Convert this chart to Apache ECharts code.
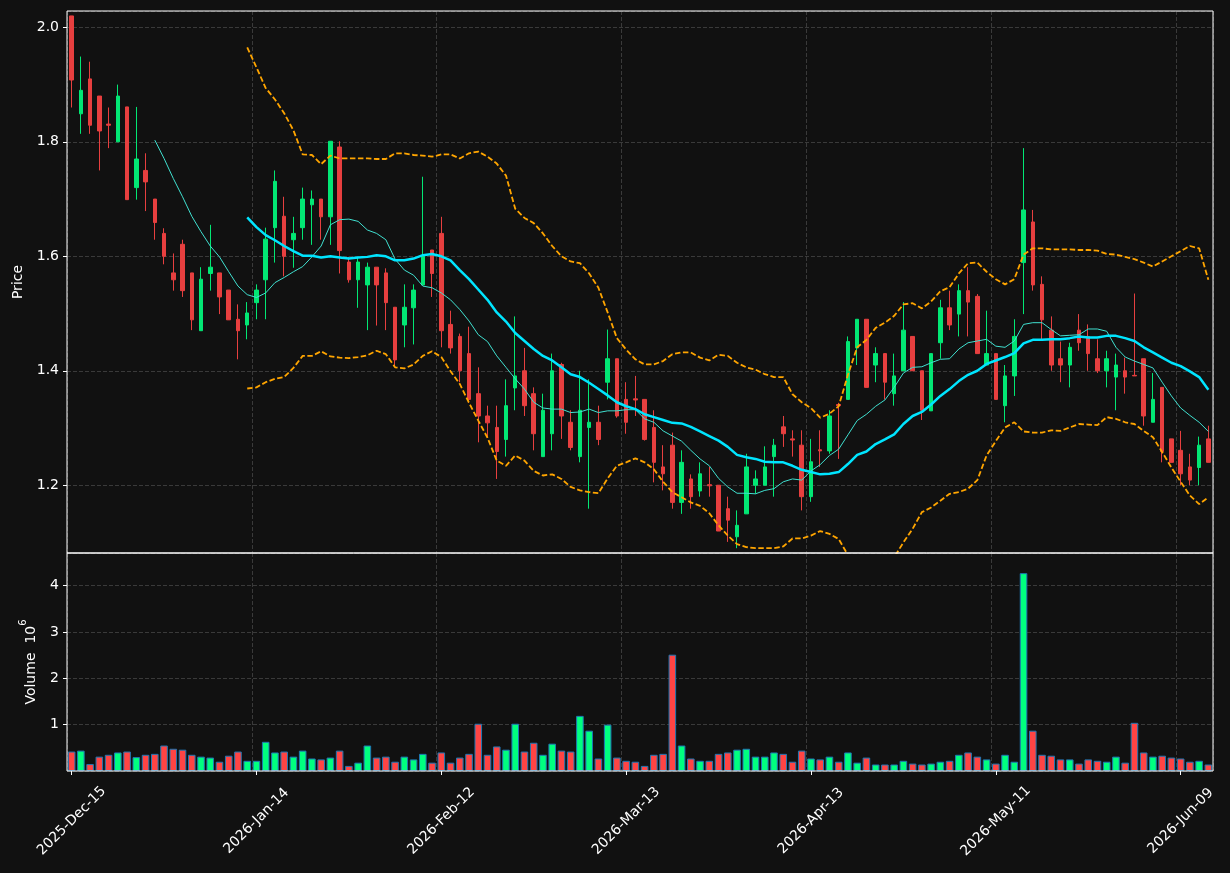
<!DOCTYPE html>
<html>
<head>
<meta charset="utf-8">
<script src="https://cdn.jsdelivr.net/npm/echarts@6/dist/echarts.min.js"></script>
<style>
  html, body { margin: 0; padding: 0; background: #111111; }
  #chart { width: 1230px; height: 873px; }
</style>
</head>
<body>
<div id="chart"></div>
<script>
// daily OHLC
var opens = [2.020,1.849,1.910,1.880,1.831,1.800,1.861,1.720,1.750,1.700,
  1.640,1.571,1.621,1.571,1.470,1.570,1.571,1.541,1.490,1.480,
  1.519,1.559,1.650,1.670,1.629,1.650,1.690,1.700,1.669,1.791,
  1.590,1.559,1.550,1.581,1.571,1.511,1.480,1.510,1.550,1.611,
  1.640,1.481,1.460,1.430,1.360,1.321,1.301,1.280,1.370,1.400,
  1.360,1.250,1.290,1.411,1.310,1.250,1.301,1.310,1.380,1.421,
  1.350,1.351,1.350,1.301,1.232,1.270,1.170,1.211,1.190,1.201,
  1.200,1.159,1.110,1.150,1.200,1.200,1.250,1.302,1.281,1.270,
  1.180,1.262,1.260,1.341,1.350,1.440,1.490,1.410,1.430,1.360,
  1.400,1.460,1.400,1.330,1.449,1.510,1.499,1.540,1.530,1.410,
  1.430,1.339,1.391,1.589,1.660,1.551,1.471,1.421,1.410,1.471,
  1.460,1.421,1.400,1.389,1.400,1.392,1.421,1.310,1.371,1.281,
  1.261,1.232,1.231,1.281];
var highs = [2.020,1.949,1.940,1.880,1.860,1.900,1.861,1.861,1.780,1.700,
  1.649,1.605,1.629,1.571,1.581,1.655,1.571,1.541,1.516,1.520,
  1.551,1.650,1.750,1.704,1.669,1.720,1.715,1.700,1.801,1.801,
  1.599,1.599,1.589,1.581,1.579,1.511,1.551,1.551,1.739,1.611,
  1.669,1.505,1.465,1.477,1.406,1.339,1.339,1.385,1.495,1.440,
  1.371,1.360,1.430,1.414,1.331,1.400,1.385,1.339,1.472,1.421,
  1.380,1.391,1.350,1.331,1.270,1.292,1.261,1.219,1.240,1.232,
  1.200,1.180,1.156,1.255,1.226,1.268,1.281,1.321,1.296,1.296,
  1.281,1.296,1.331,1.344,1.460,1.490,1.490,1.441,1.430,1.430,
  1.520,1.460,1.400,1.430,1.524,1.540,1.551,1.581,1.534,1.505,
  1.430,1.410,1.490,1.789,1.681,1.565,1.495,1.451,1.449,1.499,
  1.481,1.455,1.435,1.430,1.423,1.535,1.421,1.396,1.371,1.281,
  1.295,1.255,1.285,1.304];
var lows = [1.860,1.814,1.814,1.750,1.789,1.800,1.699,1.699,1.679,1.629,
  1.586,1.540,1.529,1.471,1.470,1.540,1.499,1.489,1.420,1.455,
  1.490,1.490,1.589,1.565,1.580,1.629,1.620,1.629,1.620,1.570,
  1.554,1.510,1.471,1.479,1.471,1.408,1.441,1.446,1.550,1.529,
  1.441,1.430,1.380,1.344,1.275,1.283,1.211,1.250,1.331,1.321,
  1.261,1.250,1.261,1.281,1.261,1.240,1.159,1.270,1.350,1.318,
  1.290,1.321,1.278,1.205,1.191,1.159,1.150,1.159,1.180,1.180,
  1.120,1.101,1.090,1.150,1.185,1.200,1.180,1.267,1.250,1.156,
  1.171,1.232,1.255,1.246,1.350,1.410,1.371,1.380,1.350,1.339,
  1.400,1.400,1.314,1.330,1.421,1.471,1.460,1.460,1.430,1.410,
  1.350,1.310,1.356,1.499,1.540,1.455,1.400,1.380,1.371,1.435,
  1.400,1.396,1.371,1.331,1.360,1.391,1.304,1.310,1.240,1.240,
  1.200,1.200,1.200,1.240];
var closes = [1.908,1.890,1.829,1.819,1.829,1.880,1.699,1.770,1.730,1.659,
  1.600,1.559,1.540,1.489,1.560,1.581,1.529,1.489,1.470,1.501,
  1.541,1.630,1.731,1.600,1.640,1.700,1.700,1.669,1.801,1.610,
  1.559,1.590,1.581,1.550,1.519,1.419,1.511,1.541,1.600,1.570,
  1.470,1.440,1.400,1.350,1.321,1.309,1.259,1.339,1.391,1.339,
  1.290,1.331,1.400,1.321,1.266,1.331,1.310,1.280,1.421,1.321,
  1.310,1.349,1.280,1.240,1.220,1.170,1.240,1.180,1.220,1.199,
  1.120,1.139,1.130,1.232,1.211,1.232,1.270,1.290,1.279,1.180,
  1.241,1.260,1.321,1.339,1.451,1.490,1.371,1.430,1.380,1.391,
  1.471,1.400,1.331,1.430,1.510,1.480,1.540,1.520,1.430,1.430,
  1.350,1.391,1.460,1.681,1.550,1.489,1.410,1.410,1.441,1.449,
  1.430,1.400,1.421,1.410,1.389,1.391,1.321,1.350,1.259,1.240,
  1.220,1.209,1.270,1.240];

// volume in millions
var volumes = [0.42,0.44,0.15,0.31,0.35,0.40,0.42,0.30,0.35,0.37,
  0.55,0.48,0.46,0.35,0.31,0.29,0.20,0.33,0.42,0.22,
  0.22,0.63,0.40,0.42,0.31,0.44,0.27,0.25,0.29,0.44,
  0.11,0.18,0.55,0.29,0.31,0.20,0.31,0.25,0.37,0.18,
  0.40,0.18,0.29,0.37,1.02,0.35,0.53,0.46,1.02,0.42,
  0.61,0.35,0.59,0.44,0.42,1.19,0.87,0.27,1.00,0.29,
  0.22,0.20,0.11,0.35,0.37,2.51,0.55,0.27,0.22,0.22,
  0.37,0.40,0.46,0.48,0.31,0.31,0.40,0.37,0.20,0.44,
  0.27,0.25,0.31,0.20,0.40,0.18,0.29,0.14,0.14,0.14,
  0.22,0.16,0.14,0.16,0.20,0.22,0.35,0.40,0.31,0.25,
  0.16,0.35,0.20,4.27,0.87,0.35,0.33,0.25,0.25,0.16,
  0.25,0.22,0.20,0.31,0.18,1.04,0.40,0.31,0.33,0.29,
  0.27,0.20,0.22,0.14];

// overlay lines (null before they start)
var ma10 = [null,null,null,null,null,null,null,null,null,1.803,
  1.771,1.736,1.704,1.670,1.643,1.618,1.599,1.573,1.548,1.533,
  1.528,1.536,1.554,1.563,1.573,1.582,1.599,1.618,1.655,1.664,
  1.665,1.661,1.646,1.640,1.629,1.595,1.576,1.567,1.548,1.545,
  1.536,1.524,1.507,1.487,1.463,1.451,1.426,1.406,1.386,1.368,
  1.345,1.335,1.333,1.333,1.327,1.328,1.333,1.327,1.330,1.330,
  1.332,1.332,1.316,1.310,1.295,1.286,1.277,1.261,1.246,1.234,
  1.212,1.197,1.186,1.186,1.185,1.191,1.194,1.206,1.211,1.209,
  1.225,1.236,1.252,1.263,1.288,1.313,1.324,1.338,1.349,1.371,
  1.396,1.406,1.407,1.414,1.420,1.421,1.438,1.449,1.452,1.455,
  1.443,1.441,1.452,1.481,1.484,1.484,1.472,1.461,1.462,1.463,
  1.473,1.473,1.469,1.441,1.424,1.417,1.411,1.405,1.380,1.356,
  1.335,1.322,1.310,1.294];
var ma20 = [null,null,null,null,null,null,null,null,null,null,
  null,null,null,null,null,null,null,null,null,1.668,
  1.651,1.637,1.628,1.618,1.609,1.601,1.601,1.598,1.600,1.598,
  1.596,1.598,1.599,1.602,1.600,1.593,1.593,1.596,1.602,1.604,
  1.600,1.593,1.576,1.560,1.542,1.524,1.502,1.486,1.466,1.452,
  1.438,1.426,1.418,1.406,1.394,1.389,1.379,1.368,1.357,1.345,
  1.338,1.333,1.324,1.319,1.314,1.309,1.308,1.302,1.294,1.286,
  1.278,1.267,1.253,1.249,1.246,1.241,1.240,1.240,1.234,1.227,
  1.223,1.219,1.220,1.223,1.237,1.253,1.259,1.272,1.280,1.289,
  1.307,1.321,1.328,1.341,1.356,1.368,1.382,1.393,1.400,1.412,
  1.418,1.424,1.431,1.448,1.454,1.454,1.455,1.455,1.457,1.460,
  1.458,1.458,1.461,1.461,1.457,1.452,1.441,1.432,1.423,1.414,
  1.408,1.399,1.389,1.367];
var upperBand = [null,null,null,null,null,null,null,null,null,null,
  null,null,null,null,null,null,null,null,null,1.965,
  1.930,1.894,1.874,1.850,1.820,1.778,1.777,1.761,1.776,1.771,
  1.771,1.771,1.771,1.770,1.770,1.780,1.780,1.777,1.776,1.774,
  1.778,1.778,1.771,1.780,1.783,1.774,1.762,1.741,1.683,1.667,
  1.658,1.640,1.618,1.600,1.591,1.588,1.570,1.545,1.502,1.457,
  1.437,1.420,1.411,1.411,1.417,1.429,1.432,1.432,1.423,1.418,
  1.428,1.426,1.414,1.406,1.402,1.394,1.389,1.389,1.359,1.345,
  1.335,1.318,1.325,1.338,1.393,1.441,1.454,1.475,1.484,1.496,
  1.516,1.518,1.509,1.521,1.539,1.546,1.570,1.588,1.589,1.573,
  1.560,1.551,1.560,1.603,1.614,1.614,1.612,1.612,1.612,1.611,
  1.611,1.610,1.604,1.603,1.599,1.595,1.589,1.582,1.591,1.600,
  1.609,1.618,1.614,1.559];
var lowerBand = [null,null,null,null,null,null,null,null,null,null,
  null,null,null,null,null,null,null,null,null,1.369,
  1.371,1.380,1.386,1.389,1.405,1.426,1.426,1.434,1.425,1.423,
  1.422,1.424,1.427,1.435,1.429,1.406,1.404,1.411,1.426,1.434,
  1.424,1.399,1.377,1.344,1.313,1.283,1.243,1.234,1.252,1.243,
  1.225,1.217,1.219,1.211,1.197,1.191,1.188,1.186,1.212,1.234,
  1.240,1.247,1.240,1.228,1.206,1.188,1.179,1.170,1.164,1.151,
  1.130,1.112,1.097,1.092,1.090,1.090,1.090,1.093,1.107,1.107,
  1.112,1.120,1.115,1.106,1.078,1.065,1.058,1.057,1.062,1.074,
  1.100,1.124,1.153,1.161,1.173,1.185,1.188,1.194,1.209,1.252,
  1.277,1.301,1.310,1.294,1.292,1.292,1.296,1.295,1.301,1.307,
  1.306,1.305,1.319,1.316,1.310,1.307,1.295,1.284,1.258,1.231,
  1.206,1.182,1.167,1.179];

// trading days, starting 2025-12-15
var holidays = ['2025-12-25', '2026-01-01', '2026-01-19', '2026-02-16', '2026-04-03', '2026-05-25'];
var monthNames = ['Jan','Feb','Mar','Apr','May','Jun','Jul','Aug','Sep','Oct','Nov','Dec'];

var upColor = '#02e774', downColor = '#e73f3f';
var volUp = '#00ff7f', volDown = '#ff4444';
var gridLine = { show: true, lineStyle: { color: '#3a3a3a', type: [4, 2], width: 1 } };
var font = 'DejaVu Sans';
var priceBox = { left: 67, top: 11, width: 1146, height: 542 };
var volBox = { left: 67, top: 553, width: 1146, height: 218 };

function tradingDays(n) {
  var out = [];
  var d = new Date(Date.UTC(2025, 11, 15));
  while (out.length < n) {
    var wd = d.getUTCDay();
    var iso = d.toISOString().slice(0, 10);
    if (wd !== 0 && wd !== 6 && holidays.indexOf(iso) < 0) {
      var dd = d.getUTCDate();
      out.push(d.getUTCFullYear() + '-' + monthNames[d.getUTCMonth()] + '-' + (dd < 10 ? '0' + dd : dd));
    }
    d.setUTCDate(d.getUTCDate() + 1);
  }
  return out;
}

var dates = tradingDays(closes.length);

var candleData = [], volData = [];
for (var i = 0; i < closes.length; i++) {
  candleData.push([opens[i], closes[i], lows[i], highs[i]]);
  volData.push({
    value: volumes[i],
    itemStyle: { color: closes[i] >= opens[i] ? volUp : volDown }
  });
}

function bandLine(name, data) {
  return {
    name: name, type: 'line', data: data, xAxisIndex: 0, yAxisIndex: 0,
    symbol: 'none', silent: true,
    lineStyle: { color: '#ffa500', width: 1.8, type: [5.5, 2.5] }
  };
}

// white frame drawn over the split lines that sit on the panel edges
function frame(b) {
  return {
    type: 'rect', z: 100, silent: true,
    shape: { x: b.left, y: b.top, width: b.width, height: b.height },
    style: { fill: null, stroke: '#ffffff', lineWidth: 1 }
  };
}

var chart = echarts.init(document.getElementById('chart'));
chart.setOption({
  animation: false,
  backgroundColor: '#111111',
  textStyle: { fontFamily: font },
  grid: [
    { left: priceBox.left, top: priceBox.top, width: priceBox.width, height: priceBox.height, show: true, borderWidth: 0, backgroundColor: '#111111' },
    { left: volBox.left, top: volBox.top, width: volBox.width, height: volBox.height, show: true, borderWidth: 0, backgroundColor: '#111111' }
  ],
  graphic: [frame(priceBox), frame(volBox)],
  xAxis: [
    {
      type: 'category', gridIndex: 0, data: dates, boundaryGap: true,
      axisLine: { show: false }, axisTick: { show: false }, axisLabel: { show: false },
      splitLine: { show: true, interval: 19, lineStyle: gridLine.lineStyle }
    },
    {
      type: 'category', gridIndex: 1, data: dates, boundaryGap: true,
      axisLine: { show: false },
      axisTick: { show: true, interval: 19, alignWithLabel: true, length: 4, lineStyle: { color: '#ffffff' } },
      axisLabel: {
        interval: 19, rotate: 45, align: 'center', verticalAlign: 'middle', margin: 50,
        color: '#ffffff', fontSize: 14, fontFamily: font
      },
      splitLine: { show: true, interval: 19, lineStyle: gridLine.lineStyle }
    }
  ],
  yAxis: [
    {
      type: 'value', gridIndex: 0, min: 1.0816, max: 2.0286, splitNumber: 5, scale: true,
      name: 'Price', nameLocation: 'middle', nameGap: 42, nameRotate: 90,
      nameTextStyle: { color: '#ffffff', fontSize: 14, fontFamily: font },
      axisLine: { show: false },
      axisTick: { show: true, length: 4, lineStyle: { color: '#ffffff' } },
      axisLabel: {
        color: '#ffffff', fontSize: 14, fontFamily: font, margin: 8,
        showMinLabel: false, showMaxLabel: false,
        formatter: function (v) { return v.toFixed(1); }
      },
      splitLine: gridLine
    },
    {
      type: 'value', gridIndex: 1, min: 0, max: 4.705, interval: 1,
      name: '{a|Volume  10}{s|6}', nameLocation: 'middle', nameGap: 29, nameRotate: 90,
      nameTextStyle: {
        color: '#ffffff', fontFamily: font,
        rich: {
          a: { color: '#ffffff', fontSize: 14, fontFamily: font, verticalAlign: 'bottom', lineHeight: 20 },
          s: { color: '#ffffff', fontSize: 10, fontFamily: font, verticalAlign: 'top', lineHeight: 20 }
        }
      },
      axisLine: { show: false },
      axisTick: { show: true, length: 4, lineStyle: { color: '#ffffff' } },
      axisLabel: {
        color: '#ffffff', fontSize: 14, fontFamily: font, margin: 8,
        showMinLabel: false, showMaxLabel: false
      },
      splitLine: gridLine
    }
  ],
  series: [
    {
      name: 'OHLC', type: 'candlestick', xAxisIndex: 0, yAxisIndex: 0,
      data: candleData, barWidth: 4,
      itemStyle: { color: upColor, color0: downColor, borderColor: upColor, borderColor0: downColor, borderWidth: 1 }
    },
    {
      name: 'MA10', type: 'line', data: ma10, xAxisIndex: 0, yAxisIndex: 0,
      symbol: 'none', silent: true, lineStyle: { color: '#40e0d0', width: 1 }
    },
    {
      name: 'MA20', type: 'line', data: ma20, xAxisIndex: 0, yAxisIndex: 0,
      symbol: 'none', silent: true, lineStyle: { color: '#00e5ff', width: 2.5 }
    },
    bandLine('Upper', upperBand),
    bandLine('Lower', lowerBand),
    {
      name: 'Volume', type: 'bar', xAxisIndex: 1, yAxisIndex: 1,
      data: volData, barWidth: '82%',
      itemStyle: { borderColor: '#1f77b4', borderWidth: 1 }
    }
  ]
});
</script>
</body>
</html>
